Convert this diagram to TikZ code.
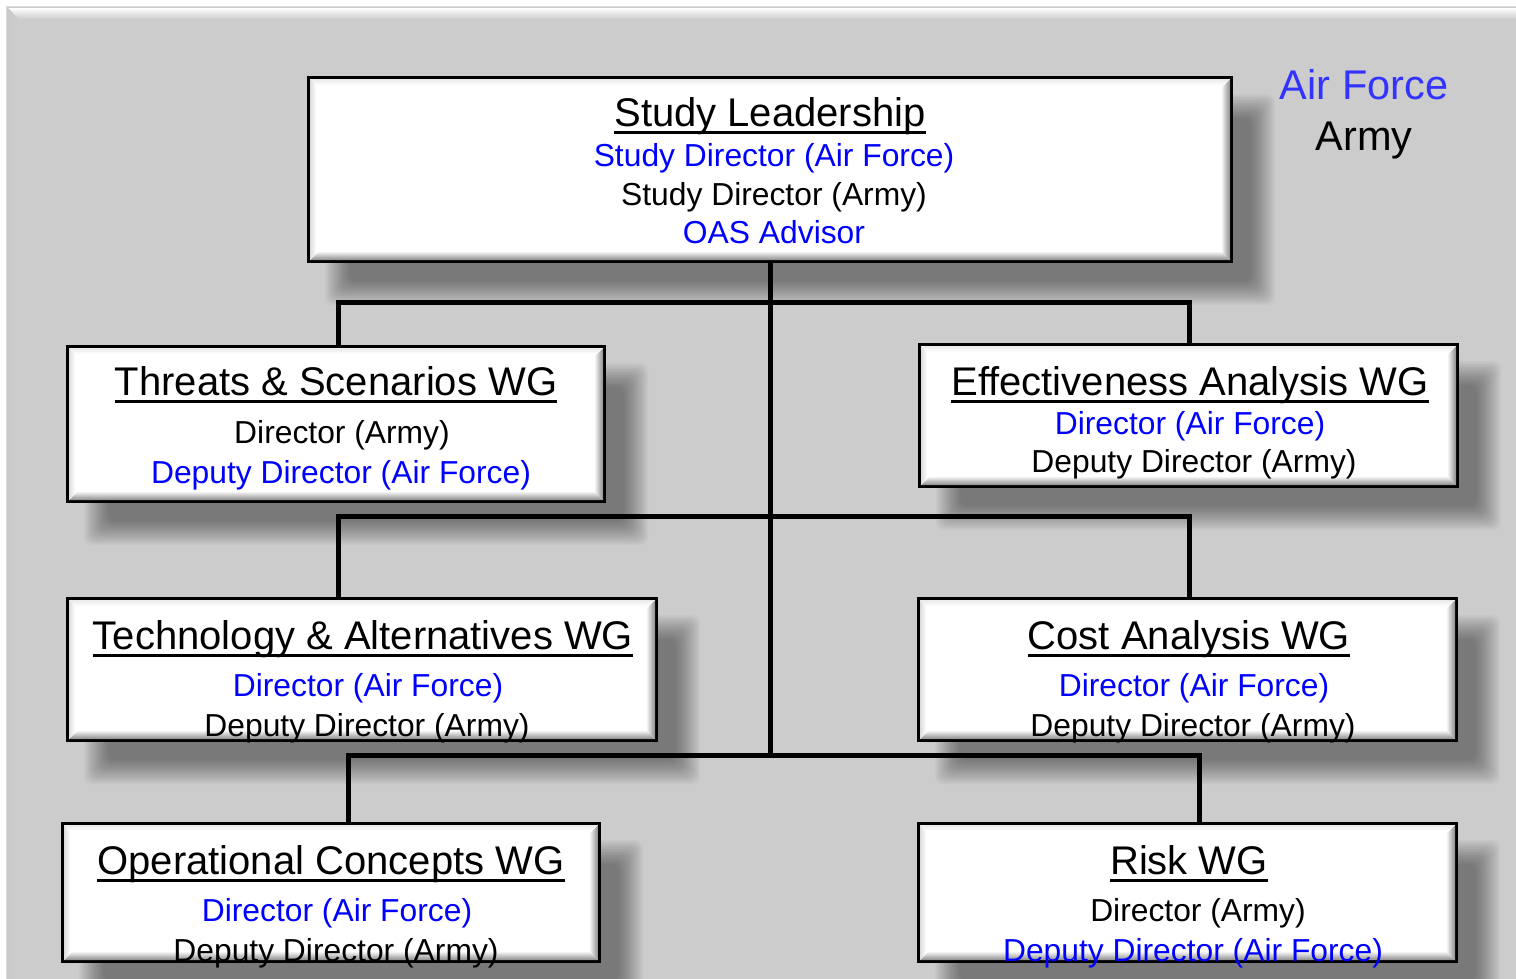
\documentclass[tikz,border=0pt]{standalone}
\usepackage{fontspec}
\setmainfont{Liberation Sans}
\usetikzlibrary{calc}
\definecolor{panel}{HTML}{CCCCCC}
\definecolor{afblue}{HTML}{0000FF}
\definecolor{keyblue}{HTML}{3333FF}
\definecolor{bevdark}{HTML}{8C8C8C}
\definecolor{bevlight}{HTML}{DCDCDC}
\pgfdeclarelayer{panellayer}
\pgfdeclarelayer{shadowlayer}
\pgfsetlayers{panellayer,shadowlayer,main}
\tikzset{
  orgbox/.style={draw=black, line width=3pt, fill=white, inner sep=0pt},
  title/.style={font=\fontsize{40}{48}\selectfont, anchor=base, inner sep=0pt},
  entry/.style={font=\fontsize{31.8}{38}\selectfont, anchor=base, inner sep=0pt},
  afentry/.style={entry, text=afblue},
  key/.style={font=\fontsize{41.5}{50}\selectfont, anchor=base, inner sep=0pt},
  link/.style={draw=black, line width=5pt, line join=miter},
  uline/.style={draw=black, line width=3pt},
}
\begin{document}
\begin{tikzpicture}[x=1pt, y=-1pt]
\useasboundingbox (0,0) rectangle (1516,978);
\clip (0,0) rectangle (1516,978);

% grey panel with raised top and left edges
\begin{pgfonlayer}{panellayer}
  \fill[white] (0,0) rectangle (1516,978);
  \fill[panel] (6,6) rectangle (1530,990);
  \shade[top color=white, bottom color=panel] (8,8) -- (1530,8) -- (1530,19) -- (19,19) -- cycle;
  \shade[left color=bevlight!80!gray, right color=panel] (7,7) -- (13,13) -- (13,990) -- (7,990) -- cycle;
  \draw[bevlight, line width=1pt] (6,990) -- (6,6) -- (1530,6);
\end{pgfonlayer}

% boxes
\node[orgbox, minimum width=923pt, minimum height=184pt] (lead) at (770,169.5) {};
\node[orgbox, minimum width=537pt, minimum height=155pt] (thr)  at (336,424) {};
\node[orgbox, minimum width=538pt, minimum height=142pt] (eff)  at (1188.5,415.5) {};
\node[orgbox, minimum width=589pt, minimum height=142pt] (tec)  at (362,669.5) {};
\node[orgbox, minimum width=538pt, minimum height=142pt] (cost) at (1187.5,669.5) {};
\node[orgbox, minimum width=537pt, minimum height=138pt] (ops)  at (331,892.5) {};
\node[orgbox, minimum width=538pt, minimum height=138pt] (risk) at (1187.5,892.5) {};

% soft drop shadows
\begin{pgfonlayer}{shadowlayer}
  \foreach \b in {lead,thr,eff,tec,cost,ops,risk}{
    \foreach \e in {0,1.5,...,24}{
      \fill[black, opacity=0.026, rounded corners=8pt]
        ([shift={(42pt-\e pt,-18pt-\e pt)}]\b.south west) rectangle
        ([shift={(18pt+\e pt,-42pt+\e pt)}]\b.north east);
    }
  }
\end{pgfonlayer}

% bevelled inner edges of the boxes
\foreach \b in {lead,thr,eff,tec,cost,ops,risk}{
  \shade[left color=white, right color=bevdark]
    ([shift={(-3pt,-3pt)}]\b.north east) -- ([shift={(-3pt,3pt)}]\b.south east) --
    ([shift={(-12pt,12pt)}]\b.south east) -- ([shift={(-12pt,-12pt)}]\b.north east) -- cycle;
  \shade[top color=white, bottom color=bevdark]
    ([shift={(3pt,3pt)}]\b.south west) -- ([shift={(-3pt,3pt)}]\b.south east) --
    ([shift={(-12pt,12pt)}]\b.south east) -- ([shift={(12pt,12pt)}]\b.south west) -- cycle;
  \shade[left color=bevlight, right color=white]
    ([shift={(3pt,-3pt)}]\b.north west) -- ([shift={(3pt,3pt)}]\b.south west) --
    ([shift={(9pt,9pt)}]\b.south west) -- ([shift={(9pt,-9pt)}]\b.north west) -- cycle;
  \shade[top color=bevlight!60!white, bottom color=white]
    ([shift={(3pt,-3pt)}]\b.north west) -- ([shift={(-3pt,-3pt)}]\b.north east) --
    ([shift={(-9pt,-9pt)}]\b.north east) -- ([shift={(9pt,-9pt)}]\b.north west) -- cycle;
}

% connectors
\coordinate (j1l) at (338,302);
\coordinate (j1r) at (1189,302);
\coordinate (j2l) at (338,516);
\coordinate (j2r) at (1189,516);
\coordinate (j3l) at (348,755);
\coordinate (j3r) at (1199,755);
\coordinate (j3m) at (770,755);
\draw[link] (lead.south) -- (j3m);
\draw[link] (thr.north -| j1l) -- (j1l) -- (j1r) -- (eff.north -| j1r);
\draw[link] (tec.north -| j2l) -- (j2l) -- (j2r) -- (cost.north -| j2r);
\draw[link] (ops.north -| j3l) -- (j3l) -- (j3r) -- (risk.north -| j3r);

% box texts
\node[title]   (lead-t) at (770,126) {Study Leadership};
\node[afentry] (lead-1) at (774,166) {Study Director (Air Force)};
\node[entry]   (lead-2) at (774,205) {Study Director (Army)};
\node[afentry] (lead-3) at (774,243) {OAS Advisor};

\node[title]   (thr-t) at (336,395) {Threats \& Scenarios WG};
\node[entry]   (thr-1) at (342,443) {Director (Army)};
\node[afentry] (thr-2) at (341,483) {Deputy Director (Air Force)};

\node[title]   (eff-t) at (1190,395) {Effectiveness Analysis WG};
\node[afentry] (eff-1) at (1190,434) {Director (Air Force)};
\node[entry]   (eff-2) at (1194,472) {Deputy Director (Army)};

\node[title]   (tec-t) at (363,649) {Technology \& Alternatives WG};
\node[afentry] (tec-1) at (368,696) {Director (Air Force)};
\node[entry]   (tec-2) at (367,736) {Deputy Director (Army)};

\node[title]   (cost-t) at (1189,649) {Cost Analysis WG};
\node[afentry] (cost-1) at (1194,696) {Director (Air Force)};
\node[entry]   (cost-2) at (1193,736) {Deputy Director (Army)};

\node[title]   (ops-t) at (331,874) {Operational Concepts WG};
\node[afentry] (ops-1) at (337,921) {Director (Air Force)};
\node[entry]   (ops-2) at (336,961) {Deputy Director (Army)};

\node[title]   (risk-t) at (1189,874) {Risk WG};
\node[entry]   (risk-1) at (1198,921) {Director (Army)};
\node[afentry] (risk-2) at (1193,961) {Deputy Director (Air Force)};

\foreach \t in {lead-t,thr-t,eff-t,tec-t,cost-t,ops-t,risk-t}{
  \draw[uline] ([yshift=-6pt]\t.base west) -- ([yshift=-6pt]\t.base east);
}

% colour key
\node[key, text=keyblue] (key-af) at (1364,99) {Air Force};
\node[key] (key-army) at (1364,150) {Army};
\end{tikzpicture}
\end{document}
